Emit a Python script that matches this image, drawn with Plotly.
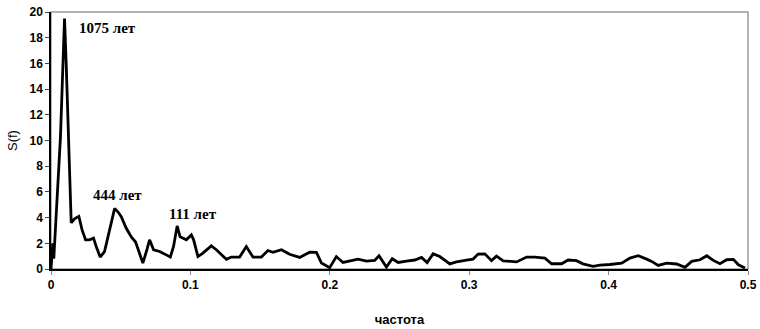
import plotly.graph_objects as go

freq = [0.0, 0.0013, 0.0020, 0.0027, 0.0049, 0.0068, 0.0085, 0.0097, 0.0109, 0.0126,
        0.0136, 0.0145, 0.0169, 0.0200, 0.0224, 0.0248, 0.0276, 0.0305, 0.0324, 0.0353,
        0.0384, 0.0408, 0.0456, 0.0480, 0.0504, 0.0540, 0.0576, 0.0607, 0.0635, 0.0659,
        0.0688, 0.0707, 0.0736, 0.0779, 0.0827, 0.0856, 0.0879, 0.0905, 0.0926, 0.0971,
        0.1007, 0.1023, 0.1054, 0.1090, 0.1150, 0.1186, 0.1258, 0.1294, 0.1353, 0.1401,
        0.1449, 0.1509, 0.1556, 0.1592, 0.1653, 0.1712, 0.1784, 0.1856, 0.1904, 0.1940,
        0.1999, 0.2047, 0.2095, 0.2155, 0.2203, 0.2263, 0.2322, 0.2353, 0.2406, 0.2448,
        0.2490, 0.2550, 0.2610, 0.2658, 0.2698, 0.2741, 0.2789, 0.2861, 0.2909, 0.2981,
        0.3028, 0.3064, 0.3112, 0.3160, 0.3196, 0.3244, 0.3292, 0.3340, 0.3412, 0.3471,
        0.3543, 0.3591, 0.3663, 0.3710, 0.3770, 0.3816, 0.3888, 0.3938, 0.4010, 0.4094,
        0.4153, 0.4213, 0.4273, 0.4309, 0.4356, 0.4417, 0.4488, 0.4548, 0.4596, 0.4656,
        0.4704, 0.4751, 0.4799, 0.4847, 0.4895, 0.4931, 0.4979]
spectrum = [0.0, 2.0, 0.8, 2.2, 5.6, 10.3, 15.7, 19.5, 16.0, 10.0,
            7.0, 3.6, 3.9, 4.1, 3.0, 2.27, 2.27, 2.4, 1.75, 0.93,
            1.36, 2.5, 4.7, 4.45, 4.07, 3.17, 2.5, 2.1, 1.24, 0.46,
            1.5, 2.27, 1.5, 1.36, 1.1, 0.93, 1.75, 3.35, 2.5, 2.27,
            2.65, 2.27, 0.97, 1.24, 1.8, 1.5, 0.75, 0.93, 0.93, 1.75,
            0.93, 0.93, 1.44, 1.3, 1.5, 1.15, 0.9, 1.31, 1.3, 0.46,
            0.1, 0.97, 0.51, 0.67, 0.77, 0.62, 0.67, 1.03, 0.15, 0.8,
            0.51, 0.62, 0.7, 0.9, 0.5, 1.18, 0.97, 0.4, 0.55, 0.7,
            0.77, 1.16, 1.18, 0.65, 1.0, 0.64, 0.6, 0.55, 0.93, 0.93,
            0.85, 0.41, 0.41, 0.7, 0.65, 0.4, 0.2, 0.3, 0.35, 0.46,
            0.85, 1.03, 0.77, 0.59, 0.28, 0.46, 0.39, 0.13, 0.59, 0.72,
            1.03, 0.67, 0.41, 0.72, 0.75, 0.33, 0.08]

x_ticks = [0, 0.1, 0.2, 0.3, 0.4, 0.5]
x_tick_labels = ["0", "0.1", "0.2", "0.3", "0.4", "0.5"]
y_ticks = [0, 2, 4, 6, 8, 10, 12, 14, 16, 18, 20]

peak_labels = ["1075 лет", "444 лет", "111 лет"]
peak_x = [0.0183, 0.0284, 0.0829]
peak_y = [18.74, 5.75, 4.28]

fig = go.Figure()
fig.add_trace(go.Scatter(x=freq, y=spectrum, mode="lines",
                         line=dict(color="black", width=2.8), showlegend=False))

for t, xx, yy in zip(peak_labels, peak_x, peak_y):
    fig.add_annotation(x=xx, y=yy, text=t, showarrow=False, xanchor="left", yanchor="middle",
                       font=dict(family="Liberation Serif", size=15, color="black", weight="bold"))

# plot-area border (top/right gray)
fig.add_shape(type="rect", xref="paper", yref="paper", x0=0, y0=0, x1=1, y1=1,
              line=dict(color="#9a9a9a", width=1.5), layer="below")

fig.update_layout(
    width=760, height=329,
    margin=dict(l=51, r=12, t=12, b=60),
    paper_bgcolor="white", plot_bgcolor="white",
    xaxis=dict(range=[0, 0.5], tickvals=x_ticks, ticktext=x_tick_labels, automargin=False,
               showgrid=False, zeroline=False, showline=True, linecolor="black", linewidth=1.5,
               ticks="outside", ticklen=4, tickcolor="#888", tickwidth=1,
               tickfont=dict(family="Liberation Sans", size=12, color="black", weight="bold"),
               title=dict(text="частота", standoff=24,
                          font=dict(family="Liberation Sans", size=13, color="black", weight="bold"))),
    yaxis=dict(range=[0, 20], tickvals=y_ticks, automargin=False,
               showgrid=False, zeroline=False, showline=True, linecolor="black", linewidth=1.5,
               ticks="outside", ticklen=4, tickcolor="#444", tickwidth=1,
               tickfont=dict(family="Liberation Sans", size=12, color="black", weight="bold"),
               title=dict(text="S(f)", standoff=9,
                          font=dict(family="Liberation Sans", size=13, color="black"))),
)

fig.write_html("out.html", config={"displayModeBar": False},
               post_script="document.body.style.margin='0';")
